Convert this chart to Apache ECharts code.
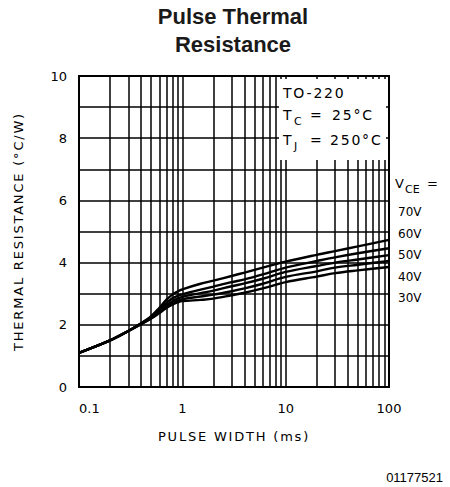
<!DOCTYPE html>
<html>
<head>
<meta charset="utf-8">
<script src="https://cdn.jsdelivr.net/npm/echarts@6/dist/echarts.min.js"></script>
<style>
html,body{margin:0;padding:0;background:#fff;}
#chart{width:450px;height:487px;}
/* the plotter font on the sheet is widely spaced */
#chart text[style*="spaced"]{letter-spacing:1.8px;}
</style>
</head>
<body>
<div id="chart"></div>
<script>
// pulse width (ms)
var pulseWidth = [0.1, 0.2, 0.3, 0.4, 0.5, 0.6, 0.7, 0.8, 0.9, 1, 1.5, 2, 3, 4, 6, 10, 20, 30, 50, 100];
// thermal resistance (°C/W) for each VCE
var vce70 = [1.1, 1.5, 1.8, 2.05, 2.28, 2.55, 2.8, 2.97, 3.07, 3.14, 3.32, 3.42, 3.57, 3.68, 3.84, 4.03, 4.25, 4.37, 4.52, 4.73];
var vce60 = [1.1, 1.5, 1.8, 2.05, 2.26, 2.5, 2.7, 2.85, 2.93, 2.98, 3.13, 3.23, 3.37, 3.46, 3.62, 3.84, 4.05, 4.17, 4.3, 4.46];
var vce50 = [1.1, 1.5, 1.8, 2.04, 2.24, 2.45, 2.62, 2.76, 2.84, 2.9, 3.02, 3.1, 3.24, 3.33, 3.48, 3.7, 3.89, 4.0, 4.1, 4.24];
var vce40 = [1.1, 1.5, 1.8, 2.03, 2.22, 2.42, 2.58, 2.7, 2.77, 2.82, 2.91, 2.97, 3.08, 3.17, 3.32, 3.54, 3.72, 3.84, 3.93, 4.05];
var vce30 = [1.1, 1.5, 1.8, 2.02, 2.2, 2.38, 2.54, 2.65, 2.72, 2.76, 2.8, 2.84, 2.95, 3.03, 3.17, 3.37, 3.55, 3.66, 3.75, 3.86];
var vceLabels = ['70V', '60V', '50V', '40V', '30V'];
// minor log grid lines
var minorX = [0.2, 0.3, 0.4, 0.5, 0.6, 0.7, 0.8, 0.9, 2, 3, 4, 5, 6, 7, 8, 9, 20, 30, 40, 50, 60, 70, 80, 90];

var spaced = "'DejaVu Sans', spaced";
var plain = "'DejaVu Sans'";

function pairs(ys){
	return pulseWidth.map(function(x, i){ return [x, ys[i]]; });
}

function txt(s, x, y, size, fam, align){
	return {
		type: 'text', x: x, y: y, z: 5, silent: true,
		style: {text: s, fill: '#000', font: size + 'px ' + fam, align: align || 'left', verticalAlign: 'middle'}
	};
}

var curves = [vce70, vce60, vce50, vce40, vce30];
var series = curves.map(function(c, i){
	return {
		name: vceLabels[i], type: 'line', data: pairs(c), smooth: 0.35,
		symbol: 'none', silent: true, z: 4,
		lineStyle: {color: '#000', width: 2.4}
	};
});
series.push({
	type: 'line', data: [], silent: true, z: 1,
	markLine: {
		z: 1, silent: true, symbol: 'none', animation: false,
		label: {show: false},
		lineStyle: {color: '#000', width: 1.5, type: 'solid'},
		emphasis: {disabled: true},
		data: minorX.map(function(v){ return {xAxis: v}; })
	}
});

var graphic = [
	{type: 'rect', z: 3, silent: true, shape: {x: 279, y: 79, width: 107, height: 81}, style: {fill: '#fff'}},
	txt('TO-220', 283, 93, 14, spaced),
	txt('T', 283, 115, 14, spaced), txt('C', 294, 121, 11, plain),
	txt('=', 310, 115, 14, spaced), txt('25°C', 332, 115, 14, spaced),
	txt('T', 283, 140, 14, spaced), txt('J', 294, 146, 11, plain),
	txt('=', 310, 140, 14, spaced), txt('250°C', 330, 140, 14, spaced),
	txt('V', 395, 183, 13, spaced), txt('CE', 405, 189, 11, plain), txt('=', 427, 183, 13, spaced),
	txt('01177521', 443, 477, 13, "'Liberation Sans'", 'right')
];
vceLabels.forEach(function(l, i){
	graphic.push(txt(l, 398, 212 + i * 21.5, 12, plain));
});

var chart = echarts.init(document.getElementById('chart'), null, {renderer: 'svg'});
chart.setOption({
	animation: false,
	backgroundColor: '#fff',
	title: {
		text: 'Pulse Thermal\nResistance',
		left: 228, top: -3, textAlign: 'center',
		textStyle: {fontFamily: "'Liberation Sans'", fontWeight: 'bold', fontSize: 22, lineHeight: 28, color: '#1a1a1a'}
	},
	grid: {left: 79, right: 61, top: 76, bottom: 100, show: true, borderColor: '#000', borderWidth: 2, z: 6},
	xAxis: {
		type: 'log', logBase: 10, min: 0.1, max: 100,
		name: 'PULSE WIDTH (ms)', nameLocation: 'middle', nameGap: 43,
		nameTextStyle: {fontFamily: spaced, fontSize: 13, color: '#000'},
		axisLine: {show: true, lineStyle: {color: '#000', width: 2}},
		axisTick: {show: false},
		axisLabel: {fontFamily: plain, fontSize: 13, color: '#000', margin: 15, alignMinLabel: 'left'},
		splitLine: {show: true, lineStyle: {color: '#000', width: 1.5}}
	},
	yAxis: {
		type: 'value', min: 0, max: 10, interval: 1,
		name: 'THERMAL RESISTANCE (°C/W)', nameLocation: 'middle', nameGap: 54,
		nameTextStyle: {fontFamily: spaced, fontSize: 13, color: '#000'},
		axisLine: {show: true, lineStyle: {color: '#000', width: 2}},
		axisTick: {show: false},
		axisLabel: {
			fontFamily: plain, fontSize: 13, color: '#000', margin: 12,
			formatter: function(v){ return v % 2 === 0 ? String(v) : ''; }
		},
		splitLine: {show: true, lineStyle: {color: '#000', width: 1.5}}
	},
	graphic: graphic,
	series: series
});
</script>
</body>
</html>
